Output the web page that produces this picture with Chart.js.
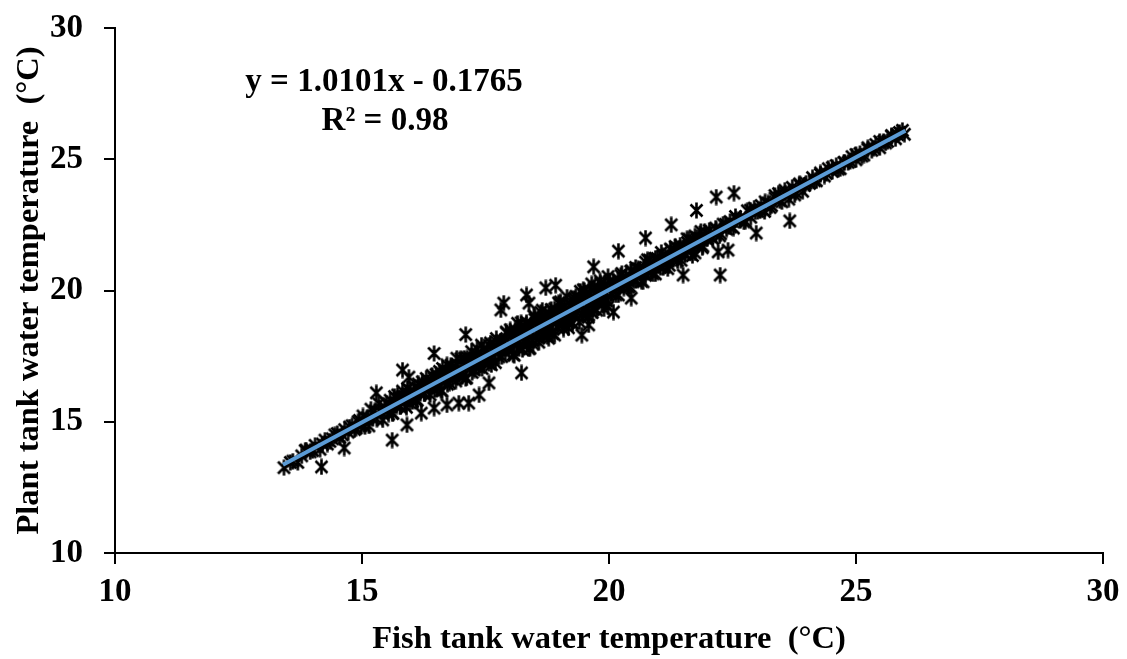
<!DOCTYPE html>
<html>
<head>
<meta charset="utf-8">
<script src="https://cdn.jsdelivr.net/npm/chart.js@4.4.1/dist/chart.umd.min.js"></script>
<style>
html, body { margin: 0; padding: 0; background: #fff; }
</style>
</head>
<body>
<canvas id="chart" width="1127" height="659"></canvas>
<script>
// Fish tank vs plant tank water temperature (°C)
const fishTemp = [
    13.42, 13.6, 13.7, 13.85, 13.95, 14.05, 14.15, 14.25, 14.3, 14.4, 14.5, 14.55, 14.65, 14.72, 14.8, 14.85, 14.92, 14.98,
    15.02, 15.06, 15.10, 15.14, 15.18, 15.22, 15.26, 15.30, 15.34, 15.38, 15.42, 15.46,
    15.50, 15.54, 15.58, 15.62, 15.66, 15.70, 15.74, 15.78, 15.82, 15.86, 15.90, 15.94,
    15.98, 16.02, 16.06, 16.10, 16.14, 16.18, 16.22, 16.26, 16.30, 16.34, 16.38, 16.42, 16.46,
    16.5, 16.53, 16.57, 16.6, 16.63, 16.67, 16.7, 16.73, 16.77, 16.8, 16.83, 16.87, 16.9, 16.93, 16.97,
    17.0, 17.03, 17.07, 17.1, 17.13, 17.17, 17.2, 17.23, 17.27, 17.3, 17.33, 17.37, 17.4, 17.43, 17.47,
    17.5, 17.53, 17.57, 17.6, 17.63, 17.67, 17.7, 17.73, 17.77, 17.8, 17.83, 17.87, 17.9, 17.93, 17.97,
    18.00, 18.03, 18.05, 18.08, 18.10, 18.13, 18.15, 18.18, 18.20, 18.23,
    18.25, 18.28, 18.30, 18.33, 18.35, 18.38, 18.40, 18.43, 18.45, 18.48,
    18.50, 18.53, 18.55, 18.58, 18.60, 18.63, 18.65, 18.68, 18.70, 18.73,
    18.75, 18.78, 18.80, 18.83, 18.85, 18.88, 18.90, 18.93, 18.95, 18.98,
    19.00, 19.03, 19.05, 19.08, 19.10, 19.13, 19.15, 19.18, 19.20, 19.23,
    19.25, 19.28, 19.30, 19.33, 19.35, 19.38, 19.40, 19.43, 19.45, 19.48,
    19.50, 19.53, 19.55, 19.58, 19.60, 19.63, 19.65, 19.68, 19.70, 19.73,
    19.75, 19.78, 19.80, 19.83, 19.85, 19.88, 19.90, 19.93, 19.95, 19.98,
    20.02, 20.06, 20.10, 20.14, 20.18, 20.22, 20.26, 20.30, 20.34, 20.38,
    20.42, 20.46, 20.50, 20.54, 20.58, 20.62, 20.66, 20.70, 20.74, 20.78,
    20.82, 20.86, 20.90, 20.94, 20.98, 21.02, 21.06, 21.10, 21.14, 21.18,
    21.22, 21.26, 21.30, 21.34, 21.38, 21.42, 21.46, 21.50, 21.54, 21.58,
    21.62, 21.66, 21.70, 21.74, 21.78, 21.82, 21.86, 21.90, 21.94, 21.98,
    22.03, 22.10, 22.17, 22.24, 22.31, 22.38, 22.45, 22.52, 22.59, 22.66,
    22.73, 22.80, 22.87, 22.94, 23.01, 23.08, 23.15, 23.22, 23.29, 23.36,
    23.43, 23.50, 23.57, 23.64, 23.71, 23.78, 23.85, 23.92, 23.99, 24.06,
    24.12, 24.20, 24.28, 24.36, 24.44, 24.52, 24.60, 24.68, 24.76, 24.84,
    24.92, 25.00, 25.08, 25.16, 25.24, 25.32, 25.40, 25.48, 25.56, 25.64,
    25.72, 25.80, 25.88, 25.94, 25.98
];
const plantTemp = [
    13.25, 13.5, 13.45, 13.9, 13.85, 14.1, 13.95, 14.3, 14.15, 14.35, 14.55, 14.4, 14.7, 14.6, 14.85, 14.7, 15.0, 14.85,
    15.22, 14.81, 15.15, 14.84, 15.48, 15.12, 15.41, 15.10, 15.69, 15.38, 15.07, 15.56,
    15.70, 15.29, 15.63, 15.32, 15.96, 15.60, 15.89, 15.58, 16.17, 15.86, 15.55, 16.04,
    16.18, 15.77, 16.11, 15.80, 16.44, 16.08, 16.37, 16.06, 16.65, 16.34, 16.03, 16.52, 16.66,
    16.8, 16.28, 16.62, 16.2, 17.03, 16.57, 16.9, 16.43, 16.87, 17.15, 16.63, 16.87, 16.55, 17.18, 16.82,
    17.4, 16.73, 17.17, 16.65, 17.43, 17.12, 17.4, 16.88, 17.42, 17.1, 17.78, 17.07, 17.45, 17.03, 17.77,
    17.4, 17.73, 17.22, 18.0, 17.43, 17.77, 17.25, 18.03, 17.72, 18.05, 17.48, 18.02, 17.65, 18.38, 17.87,
    18.50, 17.73, 18.15, 17.53, 18.40, 17.98, 18.75, 17.78, 18.20, 18.43,
    17.75, 18.63, 18.10, 18.78, 18.30, 18.53, 17.80, 18.68, 18.10, 19.03,
    19.00, 18.23, 18.65, 18.03, 18.90, 18.48, 19.25, 18.28, 18.70, 18.93,
    18.25, 19.13, 18.60, 19.28, 18.80, 19.03, 18.30, 19.18, 18.60, 19.53,
    19.50, 18.73, 19.15, 18.53, 19.40, 18.98, 19.75, 18.78, 19.20, 19.43,
    18.75, 19.63, 19.10, 19.78, 19.30, 19.53, 18.80, 19.68, 19.10, 20.03,
    20.00, 19.23, 19.65, 19.03, 19.90, 19.48, 20.25, 19.28, 19.70, 19.93,
    19.25, 20.13, 19.60, 20.28, 19.80, 20.03, 19.30, 20.18, 19.60, 20.53,
    20.36, 19.90, 20.19, 19.83, 20.42, 20.16, 20.65, 20.09, 20.48, 20.37,
    20.16, 20.75, 20.39, 20.88, 20.57, 20.81, 20.35, 20.84, 20.58, 21.17,
    21.16, 20.70, 20.99, 20.63, 21.22, 20.96, 21.45, 20.89, 21.28, 21.17,
    20.96, 21.55, 21.19, 21.68, 21.37, 21.61, 21.15, 21.64, 21.38, 21.97,
    21.96, 21.50, 21.79, 21.43, 22.02, 21.76, 22.25, 21.69, 22.08, 21.97,
    22.29, 21.98, 22.31, 22.08, 22.53, 22.34, 22.63, 22.38, 22.69, 22.68,
    22.61, 23.04, 22.79, 23.14, 23.01, 23.24, 23.01, 23.34, 23.23, 23.62,
    23.69, 23.38, 23.71, 23.48, 23.93, 23.74, 24.03, 23.78, 24.09, 24.08,
    24.30, 24.18, 24.42, 24.36, 24.64, 24.54, 24.76, 24.64, 24.88, 24.88,
    25.10, 24.98, 25.22, 25.16, 25.44, 25.34, 25.56, 25.44, 25.68, 25.68,
    25.90, 25.78, 26.02, 26.10, 25.95
];

// second pass of readings in the dense band
const fillFish = [
    13.55, 13.78, 14.0, 14.2, 14.35, 14.45, 14.6, 14.75, 14.88, 14.95,
    15.52, 15.57, 15.62, 15.67, 15.72, 15.77, 15.82, 15.87, 15.92, 15.97,
    16.02, 16.07, 16.12, 16.17, 16.22, 16.27, 16.32, 16.37, 16.42, 16.47,
    16.52, 16.57, 16.62, 16.67, 16.72, 16.77, 16.82, 16.87, 16.92, 16.97,
    17.02, 17.07, 17.12, 17.17, 17.22, 17.27, 17.32, 17.37, 17.42, 17.47,
    17.52, 17.57, 17.62, 17.67, 17.72, 17.77, 17.82, 17.87, 17.92, 17.97,
    18.02, 18.06, 18.10, 18.14, 18.18, 18.22, 18.26, 18.30, 18.34, 18.38,
    18.42, 18.46, 18.50, 18.54, 18.58, 18.62, 18.66, 18.70, 18.74, 18.78,
    18.82, 18.86, 18.90, 18.94, 18.98, 19.02, 19.06, 19.10, 19.14, 19.18,
    19.22, 19.26, 19.30, 19.34, 19.38, 19.42, 19.46, 19.50, 19.54, 19.58,
    19.62, 19.66, 19.70, 19.74, 19.78, 19.82, 19.86, 19.90, 19.94, 19.98,
    20.04, 20.09, 20.14, 20.19, 20.24, 20.29, 20.34, 20.39, 20.44, 20.49,
    20.54, 20.59, 20.64, 20.69, 20.74, 20.79, 20.84, 20.89, 20.94, 20.99,
    21.04, 21.09, 21.14, 21.19, 21.24, 21.29, 21.34, 21.39, 21.44, 21.49,
    21.54, 21.59, 21.64, 21.69, 21.74, 21.79, 21.84, 21.89, 21.94, 21.99,
    22.06, 22.16, 22.26, 22.36, 22.46, 22.56, 22.66, 22.76, 22.86, 22.96,
    23.06, 23.16, 23.26, 23.36, 23.46, 23.56, 23.66, 23.76, 23.86, 23.96,
    24.16, 24.28, 24.40, 24.52, 24.64, 24.76, 24.88, 25.00, 25.12, 25.24, 25.36, 25.48, 25.60, 25.72, 25.84
];
const fillPlant = [
    13.45, 13.7, 13.9, 14.15, 14.25, 14.5, 14.5, 14.8, 14.75, 15.05,
    15.42, 15.82, 15.32, 15.72, 16.02, 15.57, 15.97, 15.82, 16.27, 15.72,
    15.92, 16.32, 15.82, 16.22, 16.52, 16.07, 16.47, 16.32, 16.77, 16.22,
    16.37, 16.92, 16.17, 16.77, 17.17, 16.47, 17.07, 16.82, 17.42, 16.77,
    16.87, 17.42, 16.67, 17.27, 17.67, 16.97, 17.57, 17.32, 17.92, 17.27,
    17.37, 17.92, 17.17, 17.77, 18.17, 17.47, 18.07, 17.82, 18.42, 17.77,
    18.27, 17.56, 18.50, 17.99, 18.23, 18.77, 17.91, 18.60, 18.09, 17.78,
    18.67, 17.96, 18.90, 18.39, 18.63, 19.17, 18.31, 19.00, 18.49, 18.18,
    19.07, 18.36, 19.30, 18.79, 19.03, 19.57, 18.71, 19.40, 18.89, 18.58,
    19.47, 18.76, 19.70, 19.19, 19.43, 19.97, 19.11, 19.80, 19.29, 18.98,
    19.87, 19.16, 20.10, 19.59, 19.83, 20.37, 19.51, 20.20, 19.69, 19.38,
    19.88, 20.33, 20.18, 19.83, 20.58, 20.23, 20.48, 20.13, 20.73, 20.48,
    20.38, 20.83, 20.68, 20.33, 21.08, 20.73, 20.98, 20.63, 21.23, 20.98,
    20.88, 21.33, 21.18, 20.83, 21.58, 21.23, 21.48, 21.13, 21.73, 21.48,
    21.38, 21.83, 21.68, 21.33, 22.08, 21.73, 21.98, 21.63, 22.23, 21.98,
    22.06, 22.38, 22.16, 22.52, 22.42, 22.82, 22.74, 22.64, 23.06, 23.00,
    23.06, 23.38, 23.16, 23.52, 23.42, 23.82, 23.74, 23.64, 24.06, 24.00,
    24.18, 24.48, 24.46, 24.68, 24.62, 24.88, 24.92, 25.18, 25.12, 25.38, 25.42, 25.68, 25.62, 25.88, 25.94
];

// scattered readings away from the main band
const fishOutliers = [14.18, 14.64, 13.87, 15.29, 15.61, 15.91, 16.2, 16.46, 16.72, 16.96, 17.16, 17.37, 17.57, 15.82,
    15.95, 16.46, 17.1, 18.23, 17.81, 17.87, 18.33, 18.38, 18.72, 18.92, 19.69, 20.19, 19.45, 19.59, 20.09, 20.45,
    21.5, 22.25, 20.74, 21.26, 21.77, 22.17, 22.53, 23.66, 22.98, 22.21, 22.41];
const plantOutliers = [13.28, 14.0, 13.92, 16.1, 14.3, 14.88, 15.33, 15.52, 15.64, 15.71, 15.71, 16.02, 16.48, 16.97,
    16.7, 17.6, 18.32, 16.86, 19.26, 19.52, 19.83, 19.52, 20.1, 20.2, 20.9, 21.5, 18.3, 18.69, 19.18, 19.71,
    20.59, 20.59, 22.0, 22.5, 23.05, 23.56, 23.71, 22.65, 22.19, 21.47, 21.54];

// linear trendline end points (y = 1.0101x - 0.1765)
const trendFish = [13.4, 26.0];
const trendPlant = [13.36, 26.09];

const axisTicks = [10, 15, 20, 25, 30];

const FONT = '"Liberation Serif", "Times New Roman", serif';

const toPoints = (xs, ys) => xs.map((x, i) => ({ x: x, y: ys[i] }));
const points = toPoints(fishTemp, plantTemp)
    .concat(toPoints(fillFish, fillPlant))
    .concat(toPoints(fishOutliers, plantOutliers));
const trend = toPoints(trendFish, trendPlant);

// asterisk marker: X with a vertical bar
function makeMarker(w, h) {
    const c = document.createElement('canvas');
    c.width = w;
    c.height = h;
    const g = c.getContext('2d');
    g.strokeStyle = '#000';
    g.lineWidth = 2.6;
    g.beginPath();
    g.moveTo(1.5, 2.5); g.lineTo(w - 1.5, h - 2.5);
    g.moveTo(w - 1.5, 2.5); g.lineTo(1.5, h - 2.5);
    g.moveTo(w / 2, 0.5); g.lineTo(w / 2, h - 0.5);
    g.stroke();
    return c;
}
const marker = makeMarker(15, 17);

const fixTicks = scale => {
    scale.ticks = axisTicks.map(v => ({ value: v }));
};

const equationLabel = {
    id: 'equationLabel',
    afterDatasetsDraw(chart) {
        const ctx = chart.ctx;
        ctx.save();
        ctx.fillStyle = '#000';
        ctx.textAlign = 'center';
        ctx.textBaseline = 'middle';
        ctx.font = 'bold 33px ' + FONT;
        ctx.fillText('y = 1.0101x - 0.1765', 384, 82);
        ctx.fillText('R² = 0.98', 385, 121);
        ctx.restore();
    }
};

new Chart(document.getElementById('chart'), {
    type: 'scatter',
    data: {
        datasets: [
            {
                type: 'line',
                label: 'Linear',
                data: trend,
                borderColor: '#5B9BD5',
                borderWidth: 4,
                pointRadius: 0,
                fill: false,
                order: 0
            },
            {
                label: 'Temperature',
                data: points,
                pointStyle: marker,
                pointRadius: 8,
                order: 1
            }
        ]
    },
    options: {
        responsive: false,
        animation: false,
        devicePixelRatio: 1,
        layout: { padding: { top: 28, right: 24, left: 0, bottom: 0 } },
        plugins: {
            legend: { display: false },
            tooltip: { enabled: false }
        },
        scales: {
            x: {
                type: 'linear',
                min: 10,
                max: 30,
                afterBuildTicks: fixTicks,
                afterFit: s => { s.height = 106; s.paddingLeft = 0; s.paddingRight = 0; },
                ticks: {
                    color: '#000',
                    padding: 9,
                    font: { family: FONT, size: 33, weight: 'bold' }
                },
                grid: { drawOnChartArea: false, tickLength: 11, color: '#000', lineWidth: 2 },
                border: { color: '#000', width: 2 },
                title: {
                    display: true,
                    text: 'Fish tank water temperature  (°C)',
                    color: '#000',
                    padding: { top: 0, bottom: 0 },
                    font: { family: FONT, size: 32.5, weight: 'bold' }
                }
            },
            y: {
                type: 'linear',
                min: 10,
                max: 30,
                afterBuildTicks: fixTicks,
                afterFit: s => { s.width = 115; s.paddingTop = 0; s.paddingBottom = 0; },
                ticks: {
                    color: '#000',
                    padding: 21,
                    font: { family: FONT, size: 33, weight: 'bold' }
                },
                grid: { drawOnChartArea: false, tickLength: 11, color: '#000', lineWidth: 2 },
                border: { color: '#000', width: 2 },
                title: {
                    display: true,
                    text: 'Plant tank water temperature  (°C)',
                    color: '#000',
                    padding: { top: 10, bottom: 0 },
                    font: { family: FONT, size: 32.5, weight: 'bold' }
                }
            }
        }
    },
    plugins: [equationLabel]
});
</script>
</body>
</html>
